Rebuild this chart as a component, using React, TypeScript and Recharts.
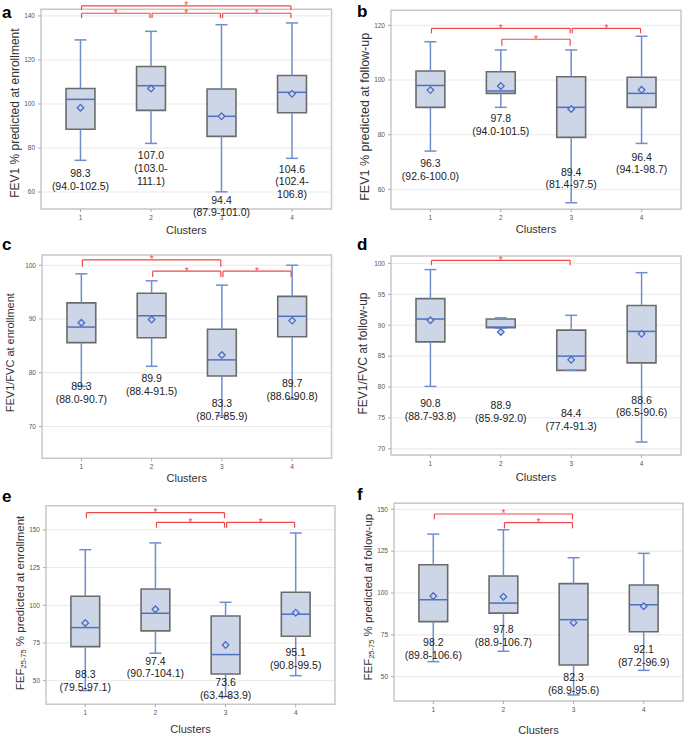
import React from 'react';
import {
  ComposedChart, XAxis, YAxis, CartesianGrid, ReferenceArea, ReferenceLine,
  ReferenceDot, Scatter, Label,
} from 'recharts';

const CLUSTERS = [1, 2, 3, 4];

// a: FEV1 % predicted at enrollment
const A_LOW = [74.4, 82.1, 60.1, 75.3];
const A_Q1 = [88.5, 97.1, 85.3, 96.0];
const A_MED = [102.1, 108.3, 94.4, 105.3];
const A_Q3 = [107.0, 117.0, 106.8, 112.9];
const A_HIGH = [129.1, 133.0, 136.0, 136.8];
const A_MEAN = [98.3, 107.0, 94.4, 104.6];
const A_CI_LO = [94.0, 103.0, 87.9, 102.4];
const A_CI_HI = [102.5, 111.1, 101.0, 106.8];
const A_SIG = [[1, 4], [1, 2], [2, 3], [3, 4]];
const A_TICKS = [60, 80, 100, 120, 140];

// b: FEV1 % predicted at follow-up
const B_LOW = [74.0, 90.0, 55.1, 76.8];
const B_Q1 = [90.0, 95.1, 79.0, 90.0];
const B_MED = [98.0, 96.0, 90.0, 95.1];
const B_Q3 = [103.3, 103.0, 101.2, 101.0];
const B_HIGH = [114.0, 111.0, 111.0, 116.0];
const B_MEAN = [96.3, 97.8, 89.4, 96.4];
const B_CI_LO = [92.6, 94.0, 81.4, 94.1];
const B_CI_HI = [100.0, 101.5, 97.5, 98.7];
const B_SIG = [[1, 3], [2, 3], [3, 4]];
const B_TICKS = [60, 80, 100, 120];

// c: FEV1/FVC at enrollment
const C_LOW = [77.5, 81.2, 72.0, 75.1];
const C_Q1 = [85.6, 86.5, 79.4, 86.7];
const C_MED = [88.5, 90.6, 82.4, 90.5];
const C_Q3 = [93.0, 94.8, 88.1, 94.2];
const C_HIGH = [98.4, 97.1, 96.3, 100.0];
const C_MEAN = [89.3, 89.9, 83.3, 89.7];
const C_CI_LO = [88.0, 88.4, 80.7, 88.6];
const C_CI_HI = [90.7, 91.5, 85.9, 90.8];
const C_SIG = [[1, 3], [2, 3], [3, 4]];
const C_TICKS = [70, 80, 90, 100];

// d: FEV1/FVC at follow-up
const D_LOW = [80.1, 89.5, 82.7, 71.1];
const D_Q1 = [87.3, 89.6, 82.7, 83.9];
const D_MED = [91.0, 89.7, 85.0, 89.0];
const D_Q3 = [94.3, 91.0, 89.2, 93.2];
const D_HIGH = [99.0, 91.2, 91.6, 98.5];
const D_MEAN = [90.8, 88.9, 84.4, 88.6];
const D_CI_LO = [88.7, 85.9, 77.4, 86.5];
const D_CI_HI = [93.8, 92.0, 91.3, 90.6];
const D_SIG = [[1, 3]];
const D_TICKS = [70, 75, 80, 85, 90, 95, 100];

// e: FEF25-75 % predicted at enrollment
const E_LOW = [43.4, 68.2, 39.4, 53.3];
const E_Q1 = [72.6, 83.0, 54.4, 79.5];
const E_MED = [85.2, 94.7, 67.3, 94.1];
const E_Q3 = [106.0, 110.8, 92.9, 108.7];
const E_HIGH = [136.9, 141.4, 102.0, 148.0];
const E_MEAN = [88.3, 97.4, 73.6, 95.1];
const E_CI_LO = [79.5, 90.7, 63.4, 90.8];
const E_CI_HI = [97.1, 104.1, 83.9, 99.5];
const E_SIG = [[1, 3], [2, 3], [3, 4]];
const E_TICKS = [50, 75, 100, 125, 150];

// f: FEF25-75 % predicted at follow-up
const F_LOW = [59.0, 65.2, 39.1, 53.8];
const F_Q1 = [82.9, 88.0, 57.0, 76.9];
const F_MED = [96.0, 94.0, 84.1, 93.0];
const F_Q3 = [116.9, 110.2, 105.6, 104.8];
const F_HIGH = [135.2, 137.8, 121.1, 123.7];
const F_MEAN = [98.2, 97.8, 82.3, 92.1];
const F_CI_LO = [89.8, 88.9, 68.9, 87.2];
const F_CI_HI = [106.6, 106.7, 95.6, 96.9];
const F_SIG = [[1, 3], [2, 3]];
const F_TICKS = [50, 75, 100, 125, 150];

const FONT = '"Liberation Sans", Arial, sans-serif';
const BOX_FILL = '#cdd6e6';
const BOX_STROKE = '#6b6b6b';
const WHISKER = '#6e8ecf';
const MEDIAN = '#4f70c3';
const RED = '#f0484a';
const BOX_HALF = 0.205;
const CAP_HALF = 0.085;
const INSET = 0.015;

type Panel = any;

const PANELS: Panel[] = [
  {
    letter: 'a', left: 0, top: 0, width: 335, height: 239, mTop: 9.3, mRight: 3.5, yw: 41, xh: 30,
    yDomain: [52.3, 143], xDomain: [0.44, 4.56], yTicks: A_TICKS,
    low: A_LOW, q1: A_Q1, med: A_MED, q3: A_Q3, high: A_HIGH, mean: A_MEAN, ciLo: A_CI_LO, ciHi: A_CI_HI,
    sig: A_SIG, sigLevels: [[144.6, 142.7], [141.2, 139.0], [141.2, 139.0], [141.2, 139.0]],
    labelAt: [68.5, 76.5, 56.4, 70.5], wrap: [false, true, false, true],
    title: { main: 'FEV1 % predicted at enrollment' }, titleSize: 12, titleDx: -5.5, titleDy: 4, xTitleDy: 6,
    letterX: 2, letterY: 18,
  },
  {
    letter: 'b', left: 340, top: 0, width: 345, height: 239.3, mTop: 10.3, mRight: 4, yw: 51, xh: 30,
    yDomain: [52.7, 125.5], xDomain: [0.44, 4.56], yTicks: B_TICKS,
    low: B_LOW, q1: B_Q1, med: B_MED, q3: B_Q3, high: B_HIGH, mean: B_MEAN, ciLo: B_CI_LO, ciHi: B_CI_HI,
    sig: B_SIG, sigLevels: [[118.9, 117.1], [114.9, 112.5], [118.9, 117.1]],
    labelAt: [69.5, 86.0, 66.4, 71.9], wrap: [false, false, false, false],
    title: { main: 'FEV1 % predicted at follow-up' }, titleSize: 12.5, titleDx: -0.5, titleDy: 7, xTitleDy: 5,
    letterX: 357, letterY: 17,
  },
  {
    letter: 'c', left: 0, top: 240, width: 335, height: 248.3, mTop: 15, mRight: 3.5, yw: 42, xh: 30,
    yDomain: [64.1, 101.9], xDomain: [0.44, 4.56], yTicks: C_TICKS,
    low: C_LOW, q1: C_Q1, med: C_MED, q3: C_Q3, high: C_HIGH, mean: C_MEAN, ciLo: C_CI_LO, ciHi: C_CI_HI,
    sig: C_SIG, sigLevels: [[101.0, 99.7], [98.9, 97.8], [98.9, 97.8]],
    labelAt: [77.4, 79.0, 74.3, 78.1], wrap: [false, false, false, false],
    title: { main: 'FEV1/FVC at enrollment' }, titleSize: 11, titleDx: -10.5, titleDy: -4, xTitleDy: 5,
    letterX: 2, letterY: 250,
  },
  {
    letter: 'd', left: 340, top: 240, width: 345, height: 245, mTop: 16, mRight: 4, yw: 51, xh: 30,
    yDomain: [69.0, 101.2], xDomain: [0.44, 4.56], yTicks: D_TICKS,
    low: D_LOW, q1: D_Q1, med: D_MED, q3: D_Q3, high: D_HIGH, mean: D_MEAN, ciLo: D_CI_LO, ciHi: D_CI_HI,
    sig: D_SIG, sigLevels: [[100.5, 99.7]],
    labelAt: [77.4, 77.0, 75.7, 77.9], wrap: [false, false, false, false],
    title: { main: 'FEV1/FVC at follow-up' }, titleSize: 12, titleDx: -3, titleDy: -2, xTitleDy: 7,
    letterX: 357, letterY: 250,
  },
  {
    letter: 'e', left: 0, top: 490, width: 338, height: 246, mTop: 15.7, mRight: 3, yw: 46, xh: 31.7,
    yDomain: [34.3, 166.1], xDomain: [0.44, 4.56], yTicks: E_TICKS,
    low: E_LOW, q1: E_Q1, med: E_MED, q3: E_Q3, high: E_HIGH, mean: E_MEAN, ciLo: E_CI_LO, ciHi: E_CI_HI,
    sig: E_SIG, sigLevels: [[161.5, 157.8], [155.1, 151.5], [155.1, 151.5]],
    labelAt: [54.4, 63.1, 48.7, 68.8], wrap: [false, false, false, false],
    title: { main: 'FEF', sub: '25-75', rest: ' % predicted at enrollment' }, titleSize: 11.5, titleDx: -3, titleDy: -2, xTitleDy: 9,
    letterX: 2, letterY: 502,
  },
  {
    letter: 'f', left: 340, top: 490, width: 345, height: 246, mTop: 13.3, mRight: 2, yw: 54, xh: 35,
    yDomain: [35.5, 153.6], xDomain: [0.44, 4.56], yTicks: F_TICKS,
    low: F_LOW, q1: F_Q1, med: F_MED, q3: F_Q3, high: F_HIGH, mean: F_MEAN, ciLo: F_CI_LO, ciHi: F_CI_HI,
    sig: F_SIG, sigLevels: [[147.2, 144.0], [142.0, 138.6]],
    labelAt: [70.3, 78.3, 49.4, 66.4], wrap: [false, false, false, false],
    title: { main: 'FEF', sub: '25-75', rest: ' % predicted at follow-up' }, titleSize: 11.5, titleDx: 1, titleDy: -5, xTitleDy: 11.5,
    letterX: 357, letterY: 500,
  },
];

const Diamond = (props: any) => {
  const { cx, cy } = props;
  const r = 3.3;
  return (
    <polygon
      points={`${cx},${cy - r} ${cx + r},${cy} ${cx},${cy + r} ${cx - r},${cy}`}
      fill={BOX_FILL}
      stroke="#4a6cc6"
      strokeWidth={1.3}
    />
  );
};

const ValueLabel = (props: any) => {
  const { cx, cy, payload } = props;
  const lines: string[] = payload.lines;
  return (
    <text textAnchor="middle" fontSize={10.5} fill="#222" fontFamily={FONT}>
      {lines.map((ln, k) => (
        <tspan key={k} x={cx} y={cy + 3.7 + k * 12.8}>{ln}</tspan>
      ))}
    </text>
  );
};

const Star = (props: any) => (
  <text x={props.cx} y={props.cy + 3.4} textAnchor="middle" fontSize={10} fill={RED} fontFamily={FONT}>*</text>
);

function BoxPanel({ p }: { p: Panel }) {
  const rows = CLUSTERS.map((c, i) => {
    const m = p.mean[i].toFixed(1);
    const lo = p.ciLo[i].toFixed(1);
    const hi = p.ciHi[i].toFixed(1);
    const lines = p.wrap[i] ? [m, `(${lo}-`, `${hi})`] : [m, `(${lo}-${hi})`];
    return { cluster: c, mean: p.mean[i], labelAt: p.labelAt[i], lines };
  });
  const tickStyle = { fontSize: 6.5, fill: '#555', fontFamily: FONT };

  const yTitle = (lp: any) => {
    const vb = lp.viewBox;
    const x = vb.x + vb.width / 2 + p.titleDx;
    const y = vb.y + vb.height / 2 + p.titleDy;
    return (
      <text x={x} y={y} transform={`rotate(-90 ${x} ${y})`} textAnchor="middle" dominantBaseline="central"
        fontSize={p.titleSize} fill="#333" fontFamily={FONT}>
        {p.title.main}
        {p.title.sub ? <tspan dy={3} fontSize={p.titleSize * 0.65}>{p.title.sub}</tspan> : null}
        {p.title.rest ? <tspan dy={-3}>{p.title.rest}</tspan> : null}
      </text>
    );
  };
  const xTitle = (lp: any) => {
    const vb = lp.viewBox;
    const x = vb.x + vb.width / 2;
    const y = vb.y + vb.height / 2 + p.xTitleDy;
    return (
      <text x={x} y={y} textAnchor="middle" dominantBaseline="central" fontSize={11} fill="#333" fontFamily={FONT}>
        Clusters
      </text>
    );
  };

  return (
    <div style={{ position: 'absolute', left: p.left, top: p.top }}>
      <ComposedChart
        width={p.width}
        height={p.height}
        data={rows}
        margin={{ top: p.mTop, right: p.mRight, bottom: 0, left: 0 }}
        style={{ overflow: 'visible' }}
      >
        <CartesianGrid vertical={false} stroke="#e8e8e8" strokeWidth={1} />
        <XAxis
          type="number" dataKey="cluster" domain={p.xDomain} ticks={CLUSTERS}
          height={p.xh} axisLine={false} tickLine={{ stroke: '#aaa' }} tickSize={3} tickMargin={3} tick={tickStyle}
        >
          <Label content={xTitle} />
        </XAxis>
        <YAxis
          type="number" domain={p.yDomain} ticks={p.yTicks}
          width={p.yw} axisLine={false} tickLine={{ stroke: '#aaa' }} tickSize={3} tickMargin={3} tick={tickStyle}
        >
          <Label content={yTitle} />
        </YAxis>
        <ReferenceArea
          x1={p.xDomain[0]} x2={p.xDomain[1]} y1={p.yDomain[0]} y2={p.yDomain[1]}
          fill="none" fillOpacity={0} stroke="#c9c9c9" strokeWidth={1.5}
        />
        {CLUSTERS.map((c, i) => (
          <ReferenceArea
            key={`box${c}`} x1={c - BOX_HALF} x2={c + BOX_HALF} y1={p.q1[i]} y2={p.q3[i]}
            fill={BOX_FILL} fillOpacity={1} stroke={BOX_STROKE} strokeWidth={1.6}
          />
        ))}
        {CLUSTERS.map((c, i) => (
          <ReferenceLine key={`wl${c}`} segment={[{ x: c, y: p.low[i] }, { x: c, y: p.q1[i] }]} stroke={WHISKER} strokeWidth={1.5} />
        ))}
        {CLUSTERS.map((c, i) => (
          <ReferenceLine key={`wh${c}`} segment={[{ x: c, y: p.q3[i] }, { x: c, y: p.high[i] }]} stroke={WHISKER} strokeWidth={1.5} />
        ))}
        {CLUSTERS.map((c, i) => (
          <ReferenceLine key={`cl${c}`} segment={[{ x: c - CAP_HALF, y: p.low[i] }, { x: c + CAP_HALF, y: p.low[i] }]} stroke={WHISKER} strokeWidth={1.5} />
        ))}
        {CLUSTERS.map((c, i) => (
          <ReferenceLine key={`ch${c}`} segment={[{ x: c - CAP_HALF, y: p.high[i] }, { x: c + CAP_HALF, y: p.high[i] }]} stroke={WHISKER} strokeWidth={1.5} />
        ))}
        {CLUSTERS.map((c, i) => (
          <ReferenceLine key={`md${c}`} segment={[{ x: c - BOX_HALF, y: p.med[i] }, { x: c + BOX_HALF, y: p.med[i] }]} stroke={MEDIAN} strokeWidth={1.5} />
        ))}
        {p.sig.map((pair: number[], k: number) => {
          const [lvl, leg] = p.sigLevels[k];
          const a = pair[0] + INSET;
          const b = pair[1] - INSET;
          return [
            <ReferenceLine key={`sh${k}`} ifOverflow="visible" segment={[{ x: a, y: lvl }, { x: b, y: lvl }]} stroke={RED} strokeWidth={1.2} />,
            <ReferenceLine key={`sa${k}`} ifOverflow="visible" segment={[{ x: a, y: lvl }, { x: a, y: leg }]} stroke={RED} strokeWidth={1.2} />,
            <ReferenceLine key={`sb${k}`} ifOverflow="visible" segment={[{ x: b, y: lvl }, { x: b, y: leg }]} stroke={RED} strokeWidth={1.2} />,
            <ReferenceDot key={`st${k}`} ifOverflow="visible" x={(pair[0] + pair[1]) / 2} y={lvl} r={2} shape={Star} />,
          ];
        })}
        <Scatter dataKey="mean" shape={Diamond} isAnimationActive={false} />
        <Scatter dataKey="labelAt" shape={ValueLabel} isAnimationActive={false} />
      </ComposedChart>
    </div>
  );
}

export default function App() {
  return (
    <div style={{ position: 'absolute', left: 0, top: 0, width: 685, height: 736, background: '#ffffff', fontFamily: FONT }}>
      {PANELS.map((p) => <BoxPanel key={p.letter} p={p} />)}
      <svg width={685} height={736} style={{ position: 'absolute', left: 0, top: 0, pointerEvents: 'none' }}>
        {PANELS.map((p) => (
          <text key={p.letter} x={p.letterX} y={p.letterY} fontSize={17} fontWeight="bold" fill="#000" fontFamily={FONT}>
            {p.letter}
          </text>
        ))}
      </svg>
    </div>
  );
}
